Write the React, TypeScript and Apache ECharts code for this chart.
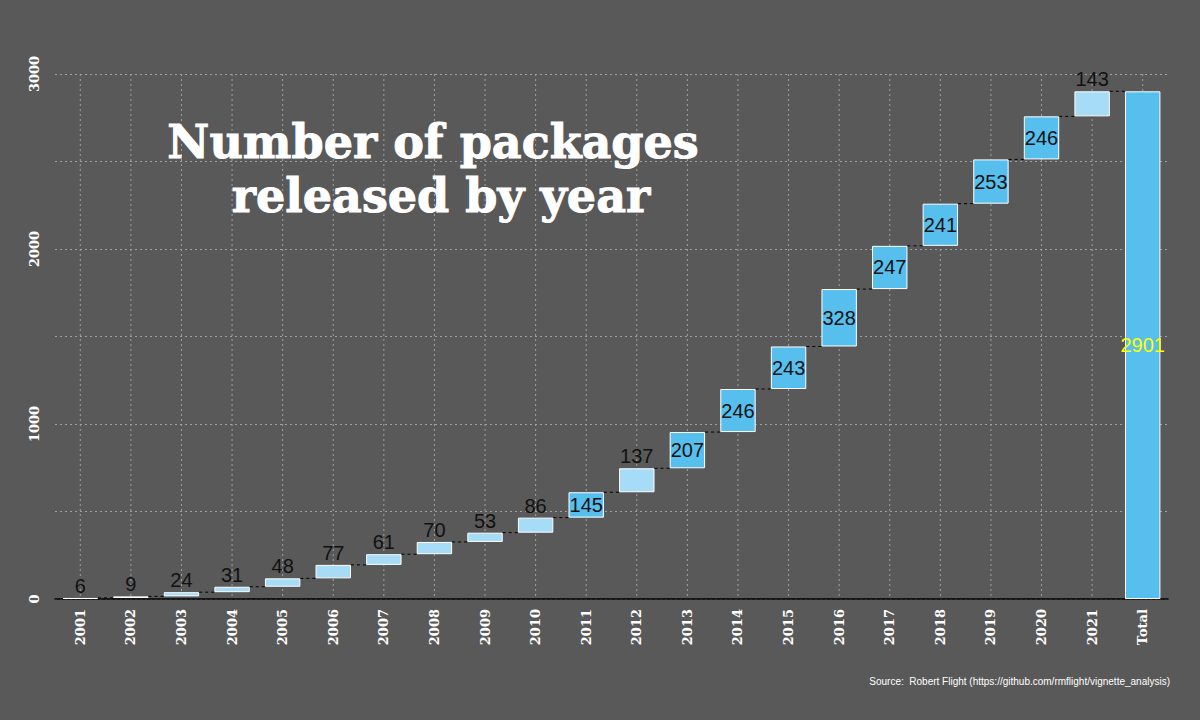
import React, { useEffect, useRef } from 'react';
import * as echarts from 'echarts';

const years = ['2001','2002','2003','2004','2005','2006','2007','2008','2009','2010','2011','2012','2013','2014','2015','2016','2017','2018','2019','2020','2021'];
const counts = [6, 9, 24, 31, 48, 77, 61, 70, 53, 86, 145, 137, 207, 246, 243, 328, 247, 241, 253, 246, 143];
const categories = [...years, 'Total'];

const App: React.FC = () => {
  const chartRef = useRef<HTMLDivElement>(null);

  useEffect(() => {
    if (!chartRef.current) return;
    document.body.style.margin = '0';
    const chart = echarts.init(chartRef.current, undefined, { renderer: 'svg' });

    // cumulative ends
    const ends: number[] = [];
    counts.reduce((s, v, i) => { ends[i] = s + v; return s + v; }, 0);
    const total = ends[ends.length - 1];
    const bases = [...counts.map((v, i) => ends[i] - v), 0];
    const values = [...counts, total];

    const light = '#a6dcf5';
    const dark = '#56bfee';

    const barData = values.map((v, i) => {
      const isTotal = i === values.length - 1;
      const inside = v >= 145 || isTotal;
      return {
        value: v,
        itemStyle: { color: inside ? dark : light, borderColor: '#fff', borderWidth: 1 },
        label: {
          show: true,
          position: inside ? 'inside' : 'top',
          distance: 2,
          color: isTotal ? '#ffff00' : '#111',
          fontSize: 20,
          fontFamily: 'Liberation Sans, Arial, sans-serif',
        },
      };
    });

    const option: echarts.EChartsOption = {
      animation: false,
      backgroundColor: '#595959',
      grid: { left: 55, right: 32, top: 74, bottom: 121 },
      title: {
        text: 'Number of packages\n released by year',
        left: 428,
        top: 110,
        textAlign: 'center',
        textStyle: {
          color: '#fff', fontSize: 46, fontWeight: 900, lineHeight: 54,
          fontFamily: 'DejaVu Serif, serif',
          textBorderColor: '#fff', textBorderWidth: 1,
        },
      },
      graphic: [{
        type: 'text', right: 30, top: 676,
        style: { text: 'Source:  Robert Flight (https://github.com/rmflight/vignette_analysis)', fill: '#fff', fontSize: 10, fontFamily: 'Liberation Sans, Arial, sans-serif' },
      }],
      xAxis: {
        type: 'category',
        data: categories,
        axisLine: { show: true, lineStyle: { color: '#000', width: 1.5 } },
        axisTick: { show: false },
        axisLabel: {
          rotate: 90, color: '#fff', fontWeight: 'bold', fontSize: 13,
          fontFamily: 'DejaVu Serif, serif', margin: 10,
        },
        splitLine: { show: false },
      },
      yAxis: {
        type: 'value',
        min: 0, max: 3000, interval: 500,
        axisLine: { show: false },
        axisTick: { show: false },
        axisLabel: {
          rotate: 90, color: '#fff', fontWeight: 'bold', fontSize: 13,
          fontFamily: 'DejaVu Serif, serif', margin: 14,
          formatter: (v: number) => (v % 1000 === 0 ? String(v) : ''),
        },
        splitLine: { lineStyle: { color: '#a0a0a0', type: [2, 3], width: 1 } },
      },
      series: [
        {
          type: 'custom',
          z: 0,
          renderItem: (params: any, api: any) => {
            const idx = api.value(0);
            const p = api.coord([idx, 0]);
            const cs = params.coordSys;
            return {
              type: 'line',
              shape: { x1: p[0], y1: cs.y, x2: p[0], y2: cs.y + cs.height },
              style: { stroke: '#a0a0a0', lineWidth: 1, lineDash: [2, 3] },
            };
          },
          data: categories.map((_, i) => [i]),
          silent: true,
        },
        {
          type: 'bar', stack: 'w', barWidth: '70%', silent: true,
          itemStyle: { color: 'transparent' },
          data: bases,
        },
        {
          type: 'bar', stack: 'w', barWidth: '70%',
          data: barData as any,
        },
        {
          type: 'custom',
          z: 5,
          renderItem: (params: any, api: any) => {
            const i = api.value(0);
            const y = api.value(1);
            const w = (api.size([1, 0])[0]) * 0.35;
            const a = api.coord([i, y]);
            const b = api.coord([i + 1, y]);
            return {
              type: 'line',
              shape: { x1: a[0] + w, y1: a[1], x2: b[0] - w, y2: b[1] },
              style: { stroke: '#000', lineWidth: 1, lineDash: [3, 3] },
            };
          },
          data: ends.map((e, i) => [i, e]),
          silent: true,
        },
      ],
    };

    chart.setOption(option);
    return () => chart.dispose();
  }, []);

  return <div ref={chartRef} style={{ width: 1200, height: 720 }} />;
};

export default App;
